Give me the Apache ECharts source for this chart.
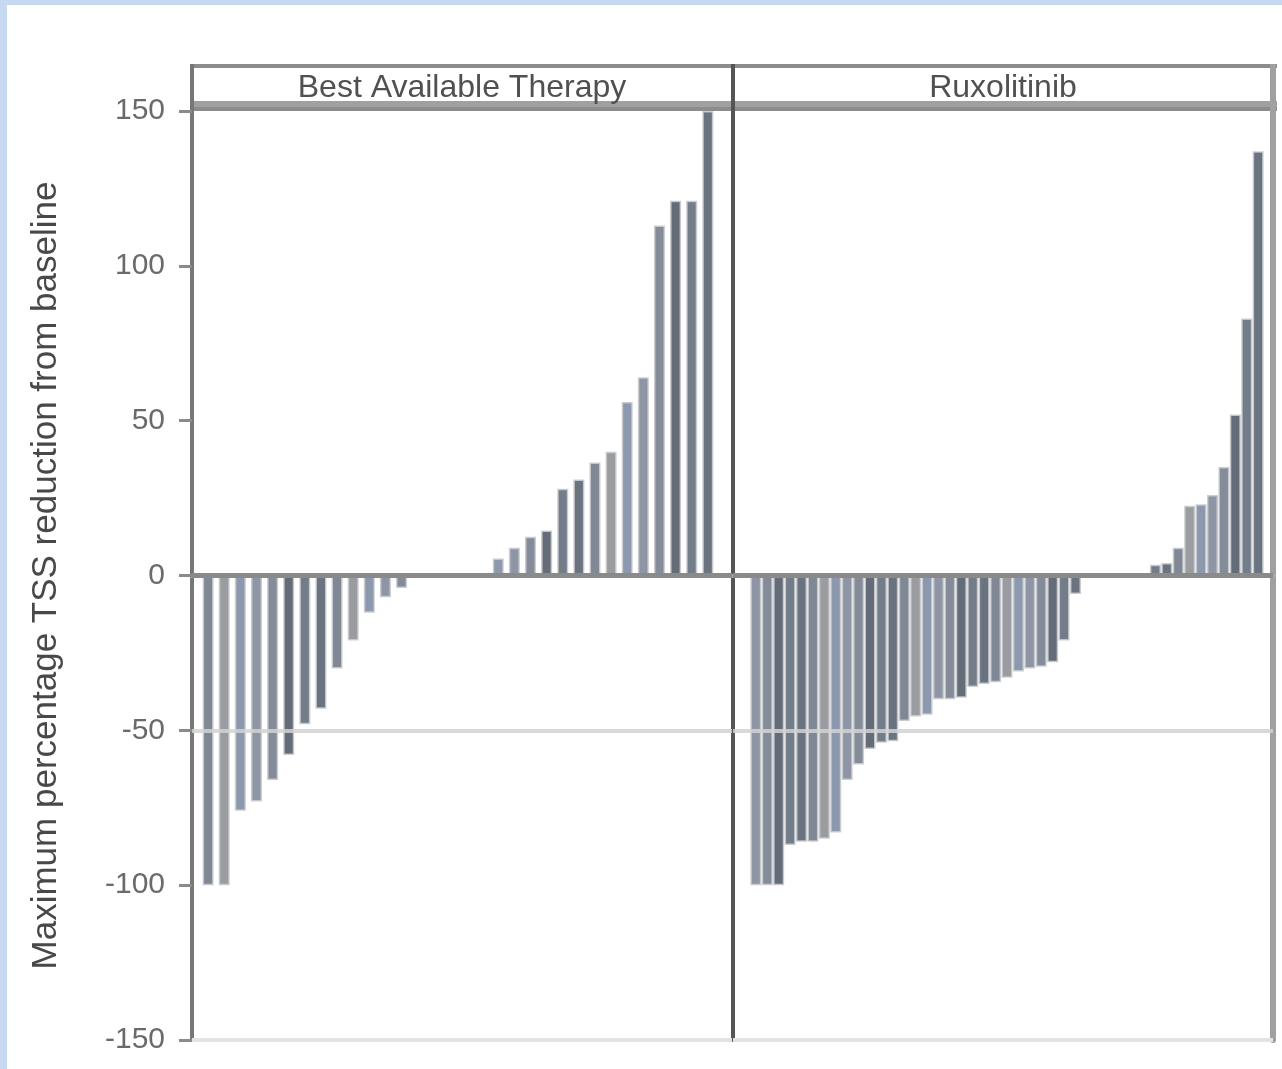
<!DOCTYPE html>
<html>
<head>
<meta charset="utf-8">
<script src="https://cdn.jsdelivr.net/npm/echarts@6/dist/echarts.min.js"></script>
<style>
  html, body { margin: 0; padding: 0; background: #ffffff; }
  #chart { width: 1282px; height: 1069px; }
</style>
</head>
<body>
<div id="chart"></div>
<script>
// ---- data ----
const panelTitles = ['Best Available Therapy', 'Ruxolitinib'];
const yAxisTitle = 'Maximum percentage TSS reduction from baseline';
const yTickValues = [-150, -100, -50, 0, 50, 100, 150];
const referenceLines = [0, -50];

// Best Available Therapy: maximum % change per patient, sorted
const batValues = [-100, -100, -76, -73, -66, -58, -48, -43, -30, -21, -12, -7, -4,
  0, 0, 0, 0, 0,
  5.5, 9, 12.5, 14.5, 28, 31, 36.5, 40, 56, 64, 113, 121, 121, 150];

// Ruxolitinib: maximum % change per patient, sorted
const ruxValues = [-100, -100, -100, -87, -86, -86, -85, -83, -66, -61, -56, -54, -53.5,
  -47, -45.5, -45, -40, -40, -39.5, -36, -35, -34.5, -33, -31, -30, -29.5, -28, -21, -6,
  0, 0, 0, 0, 0, 0,
  3.5, 4, 9, 22.5, 23, 26, 35, 52, 83, 137];

// ---- styles ----
const barPalette = ['#7f8894', '#8e96a6', '#737c89', '#9a9ca0', '#848c99', '#6a7380', '#8b98ad', '#646c78'];
const FONT = '"Liberation Sans", Arial, sans-serif';

const chart = echarts.init(document.getElementById('chart'), null, { renderer: 'canvas' });

function toPairs(arr) { return arr.map((v, i) => [i, v]); }

function barSeries(values, idx, width) {
  return {
    type: 'bar',
    xAxisIndex: idx,
    yAxisIndex: idx,
    data: toPairs(values),
    barWidth: width,
    itemStyle: {
      color: p => barPalette[(p.dataIndex * 3 + idx) % barPalette.length],
      borderColor: 'rgba(200,202,206,0.9)',
      borderWidth: 1.5
    },
    silent: true,
    z: 2,
    markLine: {
      silent: true,
      symbol: 'none',
      label: { show: false },
      z: 5,
      data: [
        { yAxis: referenceLines[1], lineStyle: { color: 'rgba(210,210,210,0.85)', width: 4, type: 'solid' } },
        { yAxis: referenceLines[0], lineStyle: { color: '#8a8a8a', width: 5, type: 'solid' } },
        { yAxis: -150, lineStyle: { color: '#e3e3e3', width: 4, type: 'solid' } }
      ]
    }
  };
}

const hiddenX = (idx, min, max) => ({
  type: 'value', gridIndex: idx, min: min, max: max, offset: 3,
  axisLine: { show: true, lineStyle: { color: '#adadad', width: 4 } },
  axisTick: { show: false }, axisLabel: { show: false }, splitLine: { show: false }
});

const option = {
  backgroundColor: '#ffffff',
  animation: false,
  grid: [
    { left: 192, top: 111, width: 540, height: 929 },
    { left: 733, top: 111, width: 540, height: 929 }
  ],
  xAxis: [
    hiddenX(0, -1, 32.5),
    hiddenX(1, -2, 45.3)
  ],
  yAxis: [
    {
      type: 'value', gridIndex: 0, min: -150, max: 150, interval: 50,
      name: yAxisTitle, nameLocation: 'middle', nameRotate: 90, nameGap: 128,
      nameTextStyle: { fontSize: 35, color: '#484848', fontFamily: FONT },
      axisLine: { show: true, onZero: false, lineStyle: { color: '#777777', width: 4 } },
      axisTick: { show: true, length: 13, lineStyle: { color: '#8a8a8a', width: 3 } },
      axisLabel: { show: true, fontSize: 30, color: '#6a6a6a', margin: 27, fontFamily: FONT,
        customValues: yTickValues },
      splitLine: { show: false }
    },
    {
      type: 'value', gridIndex: 1, min: -150, max: 150, interval: 50,
      axisLine: { show: true, onZero: false, lineStyle: { color: '#555555', width: 4 } },
      axisTick: { show: false }, axisLabel: { show: false }, splitLine: { show: false }
    },
    {
      type: 'value', gridIndex: 1, position: 'right', min: -150, max: 150, interval: 50,
      axisLine: { show: true, onZero: false, lineStyle: { color: '#a0a0a0', width: 6 } },
      axisTick: { show: false }, axisLabel: { show: false }, splitLine: { show: false }
    }
  ],
  series: [
    barSeries(batValues, 0, 11),
    barSeries(ruxValues, 1, 11)
  ],
  graphic: [
    // light blue frame of the figure
    { type: 'rect', left: 0, top: 0, shape: { width: 1282, height: 5 }, style: { fill: '#c6d9f1' }, silent: true },
    { type: 'rect', left: 0, top: 0, shape: { width: 7, height: 1069 }, style: { fill: '#c6d9f1' }, silent: true },
    // facet strips
    { type: 'rect', left: 190, top: 64, shape: { width: 1087, height: 4 }, style: { fill: '#8c8c8c' }, silent: true },
    { type: 'rect', left: 190, top: 101, shape: { width: 1087, height: 6 }, style: { fill: '#a0a0a0' }, silent: true },
    { type: 'rect', left: 190, top: 107, shape: { width: 1087, height: 4 }, style: { fill: '#8c8c8c' }, silent: true },
    { type: 'rect', left: 190, top: 64, shape: { width: 4, height: 47 }, style: { fill: '#777777' }, silent: true },
    { type: 'rect', left: 731, top: 64, shape: { width: 4, height: 47 }, style: { fill: '#555555' }, silent: true },
    { type: 'rect', left: 1270, top: 64, shape: { width: 6, height: 47 }, style: { fill: '#a0a0a0' }, silent: true },
    { type: 'text', x: 462, y: 88, silent: true,
      style: { text: panelTitles[0], fontSize: 32, fontFamily: FONT, fill: '#505050',
        align: 'center', verticalAlign: 'middle', textAlign: 'center', textVerticalAlign: 'middle' } },
    { type: 'text', x: 1003, y: 88, silent: true,
      style: { text: panelTitles[1], fontSize: 32, fontFamily: FONT, fill: '#505050',
        align: 'center', verticalAlign: 'middle', textAlign: 'center', textVerticalAlign: 'middle' } }
  ]
};

chart.setOption(option);
</script>
</body>
</html>
